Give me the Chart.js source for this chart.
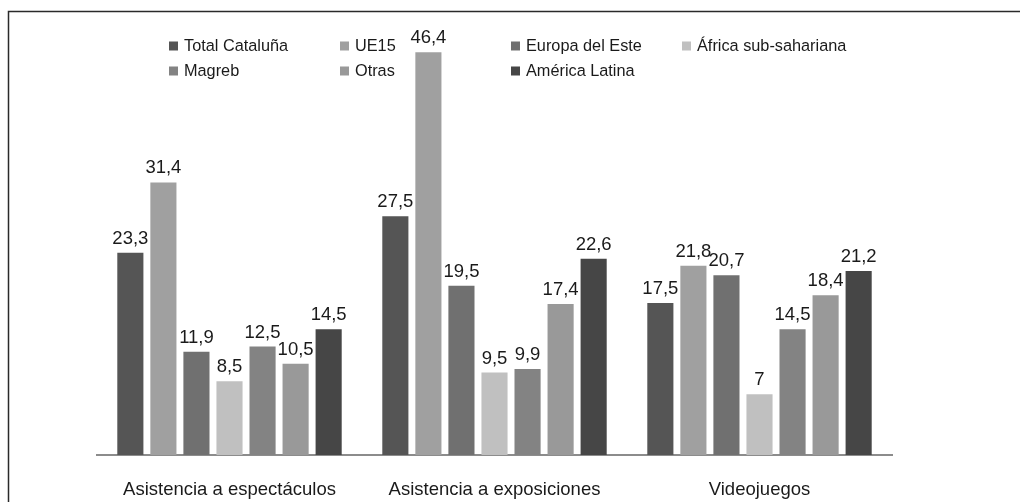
<!DOCTYPE html>
<html>
<head>
<meta charset="utf-8">
<title>Prácticas culturales por origen</title>
<script src="https://cdn.jsdelivr.net/npm/chart.js@4.4.1/dist/chart.umd.min.js"></script>
<style>
  html, body { margin: 0; padding: 0; background: #fff; }
  #wrap { width: 1020px; height: 502px; }
</style>
</head>
<body>
<div id="wrap"><canvas id="barChart" width="1020" height="502"></canvas></div>
<script>
// categorias y series (%)
var categories = ['Asistencia a espectáculos', 'Asistencia a exposiciones', 'Videojuegos'];
var seriesNames = ['Total Cataluña', 'UE15', 'Europa del Este', 'África sub-sahariana', 'Magreb', 'Otras', 'América Latina'];
var totalCataluna = [23.3, 27.5, 17.5];
var ue15 = [31.4, 46.4, 21.8];
var europaEste = [11.9, 19.5, 20.7];
var africaSub = [8.5, 9.5, 7];
var magreb = [12.5, 9.9, 14.5];
var otras = [10.5, 17.4, 18.4];
var americaLatina = [14.5, 22.6, 21.2];

var seriesValues = [totalCataluna, ue15, europaEste, africaSub, magreb, otras, americaLatina];
var colors = ['#555555', '#a0a0a0', '#707070', '#c0c0c0', '#838383', '#999999', '#464646'];

var FONT = '"Liberation Sans", Arial, sans-serif';

var datasets = seriesNames.map(function (name, i) {
    return {
        label: name,
        data: seriesValues[i],
        backgroundColor: colors[i],
        borderWidth: 0,
        barPercentage: 0.79,
        categoryPercentage: 0.873
    };
});

// marco exterior
var framePlugin = {
    id: 'frame',
    afterDraw: function (chart) {
        var ctx = chart.ctx;
        ctx.save();
        ctx.strokeStyle = '#2a2a2a';
        ctx.lineWidth = 1.5;
        ctx.beginPath();
        ctx.moveTo(8.5, 520);
        ctx.lineTo(8.5, 11.5);
        ctx.lineTo(1030, 11.5);
        ctx.stroke();
        ctx.restore();
    }
};

// etiquetas de valor encima de cada barra
var valueLabels = {
    id: 'valueLabels',
    afterDatasetsDraw: function (chart) {
        var ctx = chart.ctx;
        ctx.save();
        ctx.font = '18.5px ' + FONT;
        ctx.fillStyle = '#1a1a1a';
        ctx.textAlign = 'center';
        ctx.textBaseline = 'alphabetic';
        chart.data.datasets.forEach(function (ds, i) {
            chart.getDatasetMeta(i).data.forEach(function (bar, j) {
                var txt = String(ds.data[j]).replace('.', ',');
                ctx.fillText(txt, bar.x, bar.y - 9);
            });
        });
        ctx.restore();
    }
};

// leyenda en dos filas sobre el grafico
var gridLegend = {
    id: 'gridLegend',
    afterDraw: function (chart) {
        var ctx = chart.ctx;
        var colX = [169, 340, 511, 682];
        var rowY = [46, 71];
        ctx.save();
        ctx.font = '16.3px ' + FONT;
        ctx.textBaseline = 'middle';
        ctx.textAlign = 'left';
        chart.data.datasets.forEach(function (ds, i) {
            var x = colX[i % 4];
            var y = rowY[Math.floor(i / 4)];
            ctx.fillStyle = ds.backgroundColor;
            ctx.fillRect(x, y - 4.5, 9, 9);
            ctx.fillStyle = '#1a1a1a';
            ctx.fillText(ds.label, x + 15, y + 1);
        });
        ctx.restore();
    }
};

new Chart(document.getElementById('barChart'), {
    type: 'bar',
    data: { labels: categories, datasets: datasets },
    options: {
        responsive: false,
        animation: false,
        layout: { padding: { left: 97, right: 128, top: 21, bottom: 3 } },
        plugins: {
            legend: { display: false },
            tooltip: { enabled: false }
        },
        scales: {
            x: {
                grid: { display: false, drawTicks: false },
                border: { color: '#8c8c8c', width: 2 },
                ticks: {
                    padding: 24,
                    color: '#1a1a1a',
                    font: { family: FONT, size: 18.5 }
                },
                afterFit: function (scale) {
                    scale.height = 44;
                }
            },
            y: {
                display: false,
                min: 0,
                max: 50
            }
        }
    },
    plugins: [framePlugin, valueLabels, gridLegend]
});
</script>
</body>
</html>
